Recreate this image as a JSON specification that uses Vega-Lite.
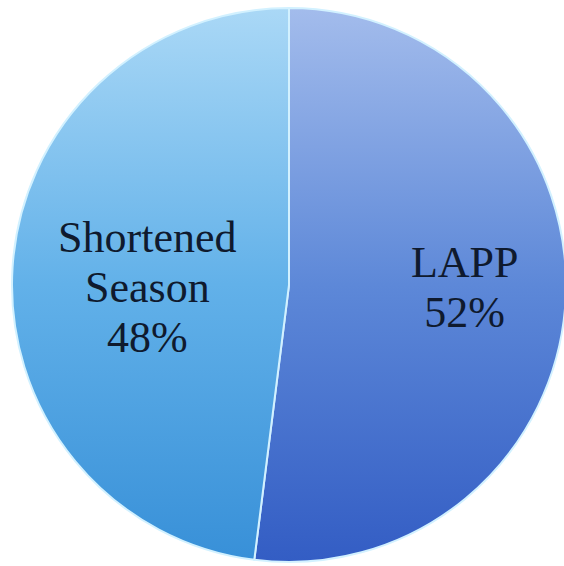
{
  "$schema": "https://vega.github.io/schema/vega-lite/v6.json",
  "autosize": "none",
  "width": 578,
  "height": 570,
  "padding": 0,
  "background": "white",
  "config": {"view": {"stroke": null}},
  "data": {"values": [
    {"category": "LAPP", "value": 52, "label": "LAPP\n52%"},
    {"category": "Shortened Season", "value": 48, "label": "Shortened\nSeason\n48%"}
  ]},
  "layer": [
    {
      "mark": {"type": "arc", "outerRadius": 277, "stroke": "#d2f1ff", "strokeWidth": 2,
        "fill": {"gradient": "linear", "x1": 0, "y1": 0, "x2": 0, "y2": 1,
          "stops": [{"offset": 0, "color": "#a3bcec"}, {"offset": 0.5, "color": "#5d88d8"}, {"offset": 1, "color": "#335dc4"}]}},
      "encoding": {
        "theta": {"field": "value", "type": "quantitative", "stack": true},
        "order": {"field": "category", "sort": "ascending"},
        "opacity": {"condition": {"test": "datum.category == 'LAPP'", "value": 1}, "value": 0}
      }
    },
    {
      "mark": {"type": "arc", "outerRadius": 277, "stroke": "#d2f1ff", "strokeWidth": 2,
        "fill": {"gradient": "linear", "x1": 0, "y1": 0, "x2": 0, "y2": 1,
          "stops": [{"offset": 0, "color": "#aad8f6"}, {"offset": 0.5, "color": "#62b1e9"}, {"offset": 1, "color": "#3890d8"}]}},
      "encoding": {
        "theta": {"field": "value", "type": "quantitative", "stack": true},
        "order": {"field": "category", "sort": "ascending"},
        "opacity": {"condition": {"test": "datum.category == 'Shortened Season'", "value": 1}, "value": 0}
      }
    },
    {
      "mark": {"type": "text", "radius": 160, "font": "Liberation Serif", "fontSize": 44,
        "color": "#0f1a2e", "lineBreak": "\n", "lineHeight": 50, "align": "center", "baseline": "middle",
        "dx": {"expr": "datum.category == 'LAPP' ? 16 : 18"},
        "dy": {"expr": "datum.category == 'LAPP' ? -31 : -36"}},
      "encoding": {
        "theta": {"field": "value", "type": "quantitative", "stack": true},
        "order": {"field": "category", "sort": "ascending"},
        "text": {"field": "label"}
      }
    }
  ]
}
